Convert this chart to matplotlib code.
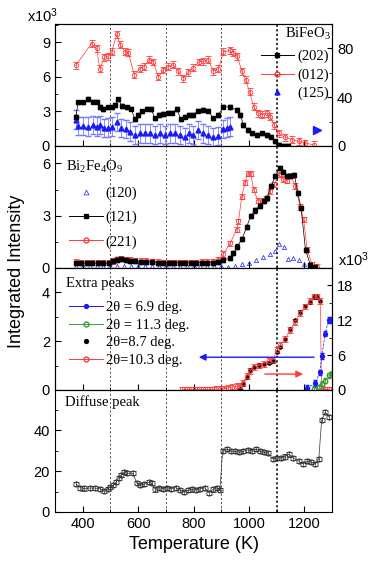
import matplotlib
matplotlib.use("Agg")
import matplotlib.pyplot as plt
from matplotlib.ticker import MultipleLocator
from matplotlib.lines import Line2D

plt.rcParams['font.family'] = 'Liberation Sans'
plt.rcParams['mathtext.default'] = 'regular'
SERIF = 'Liberation Serif'

# ---- BiFeO3 peaks (x10^3) ----
t_202 = [375, 384, 402, 420, 438, 450, 462, 474, 492, 505, 517, 529, 541, 559, 574,
         589, 601, 613, 631, 647, 661, 675, 691, 709, 724, 739, 755, 769, 784, 799,
         817, 835, 853, 871, 890, 908, 932, 956, 968, 980, 995, 1011, 1029, 1047,
         1065, 1080, 1095, 1107, 1125, 1140]
i_202 = [2.55, 3.8, 3.8, 4.07, 3.85, 3.85, 3.4, 3.2, 3.35, 3.35, 3.55, 4.05, 3.48, 3.35,
         3.25, 2.32, 2.7, 3.0, 3.25, 3.2, 2.4, 2.7, 2.78, 2.9, 2.9, 3.2, 2.32, 2.55, 2.7,
         2.7, 3.08, 3.12, 3.08, 2.4, 2.7, 3.42, 3.37, 3.13, 2.7, 1.83, 1.4, 1.1, 0.96,
         1.1, 0.96, 0.8, 0.4, 0.1, 0.0, 0.0]

t_012 = [375, 432, 450, 462, 478, 492, 505, 523, 535, 553, 565, 586, 607, 622, 640,
         655, 673, 691, 709, 727, 745, 763, 781, 799, 820, 835, 853, 871, 890, 908,
         932, 944, 958, 974, 988, 1002, 1017, 1032, 1048, 1064, 1077, 1092, 1107,
         1131, 1155, 1179, 1203, 1233]
i_012 = [7.0, 8.9, 8.5, 6.7, 7.7, 7.8, 8.2, 9.7, 8.8, 8.2, 8.1, 6.2, 6.7, 6.9, 7.5,
         7.3, 6.0, 6.6, 6.9, 7.05, 6.5, 5.9, 6.4, 6.8, 7.3, 7.35, 7.5, 6.5, 6.7, 8.2,
         8.3, 8.1, 7.8, 6.5, 5.75, 4.7, 3.4, 2.85, 2.7, 2.85, 2.55, 1.8, 1.1, 0.75,
         0.55, 0.4, 0.25, 0.1]

t_125 = [375, 384, 402, 420, 438, 450, 462, 478, 492, 507, 523, 538, 555, 571, 589,
         607, 625, 643, 661, 679, 697, 715, 733, 751, 769, 784, 799, 817, 835, 853,
         871, 890, 908, 920, 932]
i_125 = [2.3, 1.74, 1.74, 1.68, 1.83, 1.68, 1.83, 1.54, 1.6, 1.68, 2.1, 1.54, 1.45,
         1.25, 0.96, 1.1, 1.1, 1.1, 0.96, 1.1, 0.96, 1.1, 1.1, 0.96, 0.8, 1.1, 0.96,
         1.4, 1.1, 0.96, 0.8, 0.87, 1.45, 1.6, 1.68]

# ---- Bi2Fe4O9 peaks (x10^3) ----
t_120 = [375, 400, 425, 450, 475, 500, 525, 550, 575, 600, 625, 650, 675, 700, 725,
         750, 775, 800, 825, 850, 875, 900, 925, 950, 975, 1000, 1025, 1050, 1075,
         1095, 1110, 1125, 1140, 1160, 1180, 1200, 1220]
i_120 = [0.12, 0.1, 0.1, 0.1, 0.1, 0.1, 0.12, 0.12, 0.1, 0.1, 0.1, 0.1, 0.1, 0.1, 0.1,
         0.1, 0.1, 0.1, 0.1, 0.1, 0.1, 0.1, 0.05, 0.1, 0.2, 0.3, 0.45, 0.6, 0.8,
         1.0, 1.35, 1.2, 0.5, 0.55, 0.45, 0.2, 0.05]

t_121 = [375, 395, 415, 435, 455, 475, 495, 510, 525, 540, 555, 570, 590, 610, 630,
         650, 670, 690, 710, 730, 750, 770, 790, 810, 830, 850, 870, 890, 908, 932,
         944, 958, 974, 992, 1006, 1022, 1038, 1053, 1065, 1080, 1095, 1111, 1123,
         1137, 1149, 1164, 1176, 1188, 1204, 1222, 1240]
i_121 = [0.3, 0.28, 0.28, 0.28, 0.28, 0.27, 0.27, 0.38, 0.48, 0.5, 0.45, 0.42, 0.38,
         0.35, 0.35, 0.33, 0.3, 0.3, 0.3, 0.3, 0.3, 0.3, 0.3, 0.3, 0.3, 0.3, 0.3, 0.32,
         0.46, 0.56, 0.85, 1.23, 1.65, 2.35, 3.0, 3.3, 3.58, 3.83, 4.0, 4.7, 5.27,
         5.75, 5.5, 5.27, 5.3, 5.35, 4.3, 3.44, 1.04, 0.15, 0.05]

t_221 = [375, 395, 415, 435, 455, 475, 495, 510, 525, 540, 555, 570, 590, 610, 630,
         650, 670, 690, 710, 730, 750, 770, 790, 810, 830, 850, 870, 890, 908, 932,
         956, 962, 974, 986, 995, 1006, 1017, 1032, 1047, 1062, 1077, 1092, 1107,
         1123, 1137, 1152, 1167, 1185, 1197, 1210, 1228, 1245]
i_221 = [0.35, 0.3, 0.3, 0.3, 0.3, 0.3, 0.3, 0.4, 0.5, 0.52, 0.48, 0.45, 0.42, 0.4,
         0.4, 0.38, 0.35, 0.33, 0.33, 0.33, 0.33, 0.33, 0.33, 0.33, 0.35, 0.35, 0.38,
         0.45, 0.8, 1.42, 2.2, 2.67, 4.1, 4.9, 5.4, 5.4, 4.5, 3.85, 3.85, 4.0, 4.4,
         4.8, 5.35, 5.1, 5.0, 5.3, 4.7, 3.5, 2.8, 1.04, 0.2, 0.05]

# ---- extra peaks: 8.7 and 10.3 deg on left axis, 6.9 and 11.3 deg on right ----
t_103 = [760, 775, 790, 805, 820, 835, 850, 865, 880, 895, 910, 925, 940, 955, 968,
         980, 992, 1005, 1017, 1035, 1053, 1071, 1086, 1101, 1113, 1131, 1149, 1167,
         1185, 1203, 1221, 1236, 1245, 1257, 1262, 1275, 1290]
i_103 = [0.02, 0.02, 0.02, 0.02, 0.02, 0.02, 0.02, 0.02, 0.03, 0.03, 0.05, 0.08, 0.12,
         0.15, 0.15, 0.3, 0.58, 0.79, 0.93, 1.0, 1.07, 1.18, 1.24, 1.62, 1.83, 2.1,
         2.45, 2.8, 3.14, 3.42, 3.63, 3.83, 3.83, 3.63, 0.05, 0.02, 0.02]

t_87 = [968, 980, 992, 1005, 1017, 1035, 1053, 1071, 1086, 1101, 1113, 1131, 1149,
        1167, 1185, 1203, 1221, 1236, 1245, 1257]
i_87 = [0.05, 0.25, 0.55, 0.8, 0.95, 1.02, 1.08, 1.12, 1.2, 1.55, 1.75, 2.1, 2.5,
        2.85, 3.2, 3.45, 3.6, 3.8, 3.8, 3.65]

t_69 = [1209, 1239, 1255, 1263, 1275, 1287, 1299]
i_69 = [0.3, 1.16, 3.0, 5.9, 9.7, 12.0, 12.0]

t_113 = [1233, 1251, 1263, 1275, 1287, 1299]
i_113 = [0.2, 0.5, 1.1, 1.6, 2.5, 2.8]

# ---- diffuse peak ----
t_dif = [376, 392, 405, 425, 445, 462, 478, 490, 500, 510, 520, 530, 540, 550, 560,
         580, 595, 605, 620, 638, 650, 662, 675, 690, 705, 720, 735, 750, 765, 780,
         795, 810, 825, 840, 855, 870, 885, 895, 905, 920, 935, 950, 965, 980, 995,
         1010, 1025, 1040, 1055, 1070, 1085, 1100, 1115, 1130, 1145, 1160, 1180, 1195,
         1210, 1225, 1240, 1252, 1262, 1275, 1290]
i_dif = [13.7, 11.9, 11.5, 11.7, 11.7, 11.4, 10.2, 11.4, 12.0, 13.0, 14.5, 16.7, 18.3,
         19.5, 19.0, 19.0, 14.2, 13.0, 13.5, 14.5, 14.0, 11.0, 11.9, 11.4, 11.9, 11.4,
         11.9, 10.7, 9.9, 10.7, 11.0, 10.7, 11.4, 11.9, 9.5, 11.0, 11.9, 10.7, 30.1,
         30.9, 29.8, 29.8, 29.3, 29.8, 30.5, 30.1, 30.9, 29.8, 29.3, 28.8, 26.0, 26.5,
         26.5, 27.2, 28.2, 26.5, 24.9, 23.6, 24.9, 24.4, 23.6, 26.0, 44.9, 49.0, 46.5]

guide_T = [500, 700, 900, 1100]

RED = '#ff3b3b'
BLUE = '#1a1aff'
LBLUE = '#7a7aff'
GREEN = '#3a9a3a'

fig = plt.figure(figsize=(3.74, 5.66), dpi=100)
left, width = 0.147, 0.741
h = 0.2155
bottoms = [0.9576 - h * (i + 1) for i in range(4)]
axs = [fig.add_axes([left, b, width, h]) for b in bottoms]


def style(ax, ymax, major, minor):
    ax.set_xlim(300, 1300)
    ax.set_ylim(0, ymax)
    ax.xaxis.set_major_locator(MultipleLocator(200))
    ax.xaxis.set_minor_locator(MultipleLocator(100))
    ax.yaxis.set_major_locator(MultipleLocator(major))
    ax.yaxis.set_minor_locator(MultipleLocator(minor))
    ax.tick_params(which='both', direction='in', top=False, labelsize=10.5)
    ax.tick_params(which='major', length=4)
    ax.tick_params(which='minor', length=2.5)
    for t in guide_T:
        if t == 1100:
            ax.axvline(t, color='k', ls=(0, (1.5, 1.5)), lw=1.1, zorder=0)
        else:
            ax.axvline(t, color='#333333', ls=(0, (2.5, 2.5)), lw=0.6, zorder=0)


# panel 1: BiFeO3
ax = axs[0]
style(ax, 10.6, 3, 1.5)
ax.errorbar(t_012, i_012, yerr=0.3, color=RED, marker='o', mfc='none', ms=3.2,
            lw=0.5, mew=0.6, elinewidth=0.5, capsize=2)
ax.errorbar(t_125, i_125, yerr=0.8, color=BLUE, ecolor=LBLUE, marker='^', ls='none',
            ms=3.5, elinewidth=0.6, capsize=2.5)
ax.errorbar(t_202, i_202, yerr=0.15, color='k', marker='s', ms=3, lw=0.5,
            elinewidth=0.5, capsize=1.5)
ax.plot([1245], [1.4], marker='>', color=BLUE, ms=6, ls='none')
ax.text(-0.1, 1.02, 'x10$^3$', transform=ax.transAxes, fontsize=10.5, ha='left')
ax.text(0.995, 0.92, 'BiFeO$_3$', transform=ax.transAxes, fontsize=10.5,
        family=SERIF, ha='right', va='center')
h1 = [Line2D([], [], color='k', marker='s', ms=3, lw=0.7),
      Line2D([], [], color=RED, marker='o', mfc='none', ms=3.5, lw=0.7),
      Line2D([], [], color=BLUE, marker='^', ms=3.5, ls='none')]
ax.legend(h1, ['(202)', '(012)', '(125)'], loc='upper right',
          bbox_to_anchor=(1.02, 0.86), frameon=False, handlelength=2.3,
          handletextpad=0.2, labelspacing=0.35, borderpad=0.1,
          prop={'family': SERIF, 'size': 10.5})
axr = ax.twinx()
axr.set_ylim(0, 100)
axr.yaxis.set_major_locator(MultipleLocator(40))
axr.yaxis.set_minor_locator(MultipleLocator(20))
axr.tick_params(which='both', direction='in', labelsize=10.5)
axr.tick_params(which='minor', length=2.5)

# panel 2: Bi2Fe4O9
ax = axs[1]
style(ax, 7.0, 3, 1.5)
ax.plot(t_120, i_120, color=BLUE, marker='^', mfc='none', ms=3, ls='none', mew=0.5)
ax.errorbar(t_221, i_221, yerr=0.15, color=RED, marker='o', mfc='none', ms=3.2,
            lw=0.5, mew=0.6, elinewidth=0.5, capsize=2)
ax.errorbar(t_121, i_121, yerr=0.12, color='k', marker='s', ms=3, lw=0.5,
            elinewidth=0.5, capsize=1.5)
ax.text(0.04, 0.83, 'Bi$_2$Fe$_4$O$_9$', transform=ax.transAxes, fontsize=10.5,
        family=SERIF, va='center')
h2 = [Line2D([], [], color=BLUE, marker='^', mfc='none', ms=3.5, ls='none', mew=0.5),
      Line2D([], [], color='k', marker='s', ms=3, lw=0.7),
      Line2D([], [], color=RED, marker='o', mfc='none', ms=3.5, lw=0.7)]
ax.legend(h2, ['(120)', '(121)', '(221)'], loc='upper left',
          bbox_to_anchor=(0.02, 0.74), frameon=False, handlelength=2.3,
          handletextpad=0.2, labelspacing=0.75, borderpad=0.1,
          prop={'family': SERIF, 'size': 10.5})

# panel 3: extra peaks
ax = axs[2]
style(ax, 5.0, 2, 1)
ax.errorbar(t_103, i_103, yerr=0.12, color=RED, marker='o', mfc='none', ms=3.2,
            lw=0.5, mew=0.6, elinewidth=0.5, capsize=2)
ax.plot(t_87, i_87, color='k', marker='o', ms=2.3, ls='none')
ax.annotate('', xy=(809, 1.34), xytext=(1245, 1.34),
            arrowprops=dict(arrowstyle='-|>', color=BLUE, lw=1.0, mutation_scale=10))
ax.annotate('', xy=(1205, 0.65), xytext=(1047, 0.65),
            arrowprops=dict(arrowstyle='-|>', color=RED, lw=1.0, mutation_scale=10))
ax.text(0.04, 0.87, 'Extra peaks', transform=ax.transAxes, fontsize=10.5,
        family=SERIF, va='center')
h3 = [Line2D([], [], color=BLUE, marker='o', ms=2.8, lw=0.7),
      Line2D([], [], color=GREEN, marker='o', mfc='none', ms=3.5, lw=0.7),
      Line2D([], [], color='k', marker='o', ms=2.8, ls='none'),
      Line2D([], [], color=RED, marker='o', mfc='none', ms=3.5, lw=0.7)]
ax.legend(h3, ['2θ = 6.9 deg.', '2θ = 11.3 deg.', '2θ=8.7 deg.', '2θ=10.3 deg.'],
          loc='upper left', bbox_to_anchor=(0.02, 0.8), frameon=False,
          handlelength=2.3, handletextpad=0.2, labelspacing=0.3, borderpad=0.1,
          prop={'family': SERIF, 'size': 10.5})
axr = ax.twinx()
axr.set_ylim(0, 21)
axr.errorbar(t_113, i_113, yerr=0.4, color=GREEN, marker='o', mfc='none', ms=3.2,
             lw=0.5, ls='--', elinewidth=0.5, capsize=1.5)
axr.errorbar(t_69, i_69, yerr=0.5, color=BLUE, marker='o', ms=2.8, lw=0.5, ls='--',
             elinewidth=0.5, capsize=1.5)
axr.yaxis.set_major_locator(MultipleLocator(6))
axr.yaxis.set_minor_locator(MultipleLocator(3))
axr.tick_params(which='both', direction='in', labelsize=10.5)
axr.tick_params(which='minor', length=2.5)
axr.text(1.02, 1.02, 'x10$^3$', transform=axr.transAxes, fontsize=10.5, ha='left')

# panel 4: diffuse peak
ax = axs[3]
style(ax, 59.9, 20, 10)
ax.errorbar(t_dif, i_dif, yerr=1.0, color='#333333', marker='o', mfc='none', ms=3.8,
            lw=0.5, mew=0.6, elinewidth=0.5, capsize=2)
ax.text(0.035, 0.9, 'Diffuse peak', transform=ax.transAxes, fontsize=10.5,
        family=SERIF, va='center')
ax.set_xlabel('Temperature (K)', fontsize=13)

for ax in axs[:3]:
    ax.tick_params(labelbottom=False)

fig.text(0.043, 0.52, 'Integrated Intensity', rotation=90, fontsize=13,
         ha='center', va='center')

plt.savefig('out.png', dpi=100)
